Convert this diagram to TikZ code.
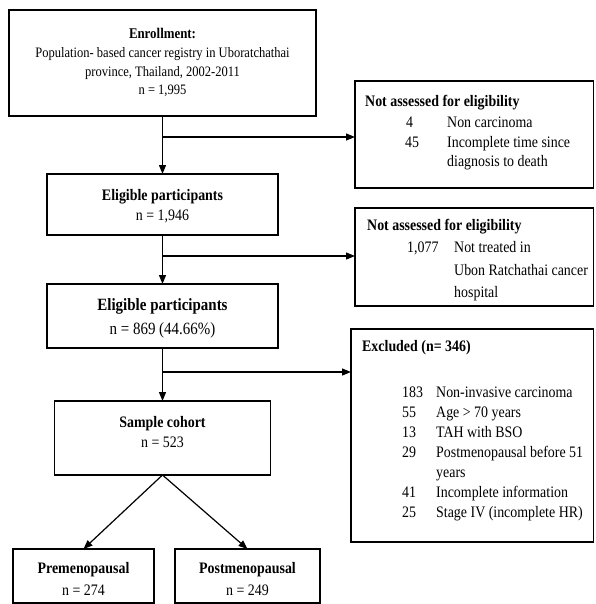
\documentclass[tikz,border=0pt]{standalone}
\usepackage{fontspec}
\setmainfont[FakeStretch=0.87]{Liberation Serif}
\usetikzlibrary{arrows.meta}
\begin{document}
\begin{tikzpicture}[x=1pt,y=-1pt,
 box/.style={draw, line width=1.3pt, inner sep=0pt, outer sep=0pt},
 arr/.style={line width=1.2pt, -{Triangle[length=9pt,width=7pt]}},
 tc/.style={anchor=base, inner sep=0pt, font=\fontsize{16}{18}\selectfont},
 tcb/.style={tc, font=\fontsize{16}{18}\selectfont\bfseries},
 tcs/.style={tc, font=\fontsize{14.4}{16}\selectfont},
 tcsb/.style={tc, font=\fontsize{14.8}{16}\selectfont\bfseries},
 tl/.style={anchor=base west, inner sep=0pt, font=\fontsize{16}{18}\selectfont},
 tlb/.style={tl, font=\fontsize{16}{18}\selectfont\bfseries},
 ]
\useasboundingbox (0,0) rectangle (595,604);

% boxes
\node[box, minimum width=307pt, minimum height=106pt] (enr) at (162.5,63) {};
\node[box, minimum width=238.5pt, minimum height=107pt] (na1) at (474.25,134.5) {};
\node[box, minimum width=231pt, minimum height=61pt] (el1) at (162.5,204.5) {};
\node[box, minimum width=238.5pt, minimum height=98pt] (na2) at (474.25,257) {};
\node[box, minimum width=231pt, minimum height=64pt] (el2) at (162.5,316) {};
\node[box, minimum width=242.5pt, minimum height=213pt] (exc) at (472.25,435.5) {};
\node[box, minimum width=216pt, minimum height=74pt] (sc) at (162.5,438) {};
\node[box, minimum width=141pt, minimum height=54pt] (pre) at (83.5,576) {};
\node[box, minimum width=145pt, minimum height=54pt] (post) at (247.5,576) {};

% connectors
\draw[arr] (enr.south) -- (el1.north);
\coordinate (b1) at (162.5,137);
\draw[arr] (b1) -- (b1 -| na1.west);
\draw[arr] (el1.south) -- (el2.north);
\coordinate (b2) at (162.5,256);
\draw[arr] (b2) -- (b2 -| na2.west);
\draw[arr] (el2.south) -- (sc.north);
\coordinate (b3) at (162.5,372);
\draw[arr] (b3) -- (b3 -| exc.west);
\draw[arr] (sc.south) -- (pre.north);
\draw[arr] (sc.south) -- (post.north);

% enrollment text
\node[tcsb] (e1) at (162.5,39) {Enrollment:};
\node[tcs] (e2) at (162.5,58) {Population- based cancer registry in Uboratchathai};
\node[tcs] (e3) at (162.5,77) {province, Thailand, 2002-2011};
\node[tcs] (e4) at (162.5,95) {n = 1,995};

% not assessed 1
\node[tlb] (a0) at (365,107) {Not assessed for eligibility};
\node[tl] (a1n) at (406,128) {4};
\node[tl] (a1t) at (447,128) {Non carcinoma};
\node[tl] (a2n) at (405,147) {45};
\node[tl] (a2t) at (447,147) {Incomplete time since};
\node[tl] (a3t) at (447,167) {diagnosis to death};

% eligible 1
\node[tcb] (l1) at (162.5,200) {Eligible participants};
\node[tc] (l2) at (162.5,220) {n = 1,946};

% not assessed 2
\node[tlb] (c0) at (367,230) {Not assessed for eligibility};
\node[tl] (c1n) at (407,252) {1,077};
\node[tl] (c1t) at (454,252) {Not treated in};
\node[tl] (c2t) at (454,275) {Ubon Ratchathai cancer};
\node[tl] (c3t) at (454,297) {hospital};

% eligible 2
\node[tc, font=\fontsize{17.2}{19}\selectfont\bfseries] (m1) at (162.5,310) {Eligible participants};
\node[tc, font=\fontsize{17.2}{19}\selectfont] (m2) at (162.5,334) {n = 869 (44.66\%)};

% excluded
\node[tlb] (x0) at (362,351) {Excluded (n= 346)};
\node[tl] (x1n) at (402,397) {183};
\node[tl] (x1t) at (436,397) {Non-invasive carcinoma};
\node[tl] (x2n) at (402,417) {55};
\node[tl] (x2t) at (436,417) {Age > 70 years};
\node[tl] (x3n) at (402,437) {13};
\node[tl] (x3t) at (436,437) {TAH with BSO};
\node[tl] (x4n) at (402,457) {29};
\node[tl] (x4t) at (436,457) {Postmenopausal before 51};
\node[tl] (x5t) at (436,477) {years};
\node[tl] (x6n) at (402,497) {41};
\node[tl] (x6t) at (436,497) {Incomplete information};
\node[tl] (x7n) at (402,517) {25};
\node[tl] (x7t) at (436,517) {Stage IV (incomplete HR)};

% sample cohort
\node[tcb] (s1) at (162.5,427) {Sample cohort};
\node[tc] (s2) at (162.5,447) {n = 523};

% pre / post
\node[tcb] (p1) at (83.5,573) {Premenopausal};
\node[tc] (p2) at (83.5,595) {n = 274};
\node[tcb] (q1) at (247.5,573) {Postmenopausal};
\node[tc] (q2) at (247.5,595) {n = 249};
\end{tikzpicture}
\end{document}
